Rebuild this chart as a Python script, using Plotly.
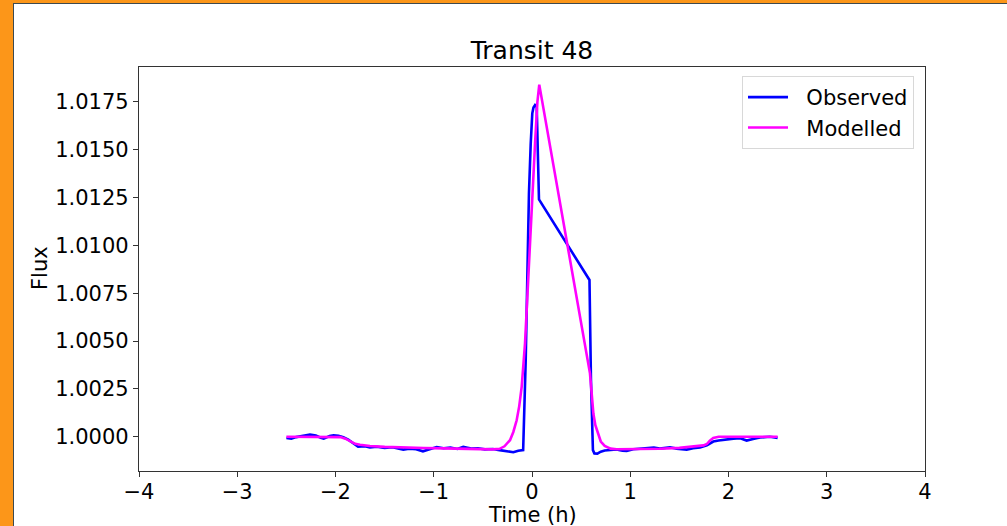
import plotly.graph_objects as go

# ---- data ----
obs_t = [-2.50, -2.45, -2.40, -2.35, -2.30, -2.26, -2.20, -2.15, -2.12, -2.06, -2.02, -1.97,
         -1.92, -1.87, -1.82, -1.77, -1.70, -1.65, -1.58, -1.50, -1.42, -1.35, -1.31, -1.25,
         -1.18, -1.11, -1.05, -0.97, -0.90, -0.83, -0.76, -0.70, -0.62, -0.55, -0.48, -0.40,
         -0.33, -0.26, -0.19, -0.14, -0.09, -0.064, -0.044, -0.031, -0.013, 0.003, 0.015,
         0.031, 0.048, 0.071, 0.585, 0.600, 0.620, 0.635, 0.665, 0.70, 0.74, 0.794, 0.86,
         0.92, 0.964, 1.03, 1.10, 1.167, 1.24, 1.30, 1.405, 1.47, 1.53, 1.575, 1.64, 1.71,
         1.78, 1.845, 1.90, 1.98, 2.05, 2.12, 2.185, 2.25, 2.32, 2.42, 2.50]
obs_flux = [0.99993, 0.99990, 0.99998, 1.00005, 1.00008, 1.00012, 1.00006, 0.99995, 0.99990,
            1.00004, 1.00008, 1.00005, 0.99998, 0.99985, 0.99965, 0.99948, 0.99950, 0.99944,
            0.99948, 0.99942, 0.99945, 0.99937, 0.99933, 0.99938, 0.99935, 0.99924, 0.99935,
            0.99946, 0.99940, 0.99944, 0.99936, 0.99947, 0.99938, 0.99940, 0.99934, 0.99936,
            0.99930, 0.99925, 0.99919, 0.99927, 0.99930, 1.00400, 1.00924, 1.01270, 1.01532,
            1.01690, 1.01720, 1.01733, 1.01724, 1.01240, 1.00819, 1.00300, 0.99930, 0.99913,
            0.99912, 0.99922, 0.99928, 0.99930, 0.99933, 0.99927, 0.99926, 0.99935, 0.99938,
            0.99940, 0.99943, 0.99938, 0.99945, 0.99938, 0.99935, 0.99933, 0.99940, 0.99944,
            0.99955, 0.99975, 0.99980, 0.99987, 0.99990, 0.99992, 0.99980, 0.99988, 0.99996,
            1.00000, 0.99994]

mod_t = [-2.50, -2.30, -2.10, -1.95, -1.90, -1.85, -1.80, -1.75, -1.65, -1.50, -1.30, -1.10,
         -0.90, -0.70, -0.50, -0.40, -0.33, -0.28, -0.224, -0.19, -0.156, -0.13, -0.105,
         -0.071, -0.037, -0.003, 0.031, 0.055, 0.074, 0.590, 0.607, 0.625, 0.645, 0.670,
         0.700, 0.740, 0.800, 0.862, 1.00, 1.30, 1.50, 1.65, 1.745, 1.78, 1.81, 1.845, 1.90,
         2.20, 2.50]
mod_flux = [1.00000, 1.00000, 1.00000, 0.99998, 0.99990, 0.99975, 0.99963, 0.99958, 0.99952,
            0.99947, 0.99943, 0.99941, 0.99939, 0.99936, 0.99934, 0.99934, 0.99937, 0.99950,
            0.99982, 1.00025, 1.00086, 1.00160, 1.00261, 1.00488, 1.00837, 1.01220, 1.01532,
            1.01750, 1.01840, 1.00331, 1.00200, 1.00120, 1.00060, 1.00020, 0.99975, 0.99952,
            0.99938, 0.99935, 0.99935, 0.99937, 0.99942, 0.99948, 0.99955, 0.99962, 0.99980,
            0.99994, 1.00000, 1.00000, 1.00000]

x_ticks = [-4, -3, -2, -1, 0, 1, 2, 3, 4]
y_ticks = [1.0000, 1.0025, 1.0050, 1.0075, 1.0100, 1.0125, 1.0150, 1.0175]

W, H = 1007, 526
L, R, T, B = 139, 925, 67, 471
FONT = "DejaVu Sans"


def px_x(p):
    return (p - L) / (R - L)


def px_y(p):
    return (B - p) / (B - T)


NB = "\u00a0\u00a0"

fig = go.Figure()
fig.add_trace(go.Scatter(x=obs_t, y=obs_flux, mode="lines", name=NB + "Observed",
                         line=dict(color="#0000FF", width=2.6)))
fig.add_trace(go.Scatter(x=mod_t, y=mod_flux, mode="lines", name=NB + "Modelled",
                         line=dict(color="#FF00FF", width=2.6)))

axis_common = dict(showgrid=False, zeroline=False, showline=True, linecolor="#333333",
                   linewidth=1.3, mirror=True, ticks="outside", ticklen=5, tickwidth=1.2,
                   tickcolor="#333333", tickfont=dict(family=FONT, size=21, color="#000000"))

fig.update_xaxes(range=[-4, 4], tickvals=x_ticks,
                 ticktext=[("\u2212" + str(-v)) if v < 0 else str(v) for v in x_ticks],
                 ticklabelstandoff=-3, **axis_common)
fig.update_yaxes(range=[0.99821, 1.01932], tickvals=y_ticks,
                 ticktext=["%.4f" % v for v in y_ticks], **axis_common)

shapes = [
    # orange frame strips (left and top) with thin dark inner line
    dict(type="rect", xref="paper", yref="paper", x0=px_x(0), x1=px_x(13), y0=px_y(W), y1=px_y(0),
         fillcolor="#FC9619", line=dict(width=0), layer="above"),
    dict(type="rect", xref="paper", yref="paper", x0=px_x(0), x1=px_x(W + 5), y0=px_y(3), y1=px_y(0),
         fillcolor="#FC9619", line=dict(width=0), layer="above"),
    dict(type="line", xref="paper", yref="paper", x0=px_x(13.5), x1=px_x(13.5), y0=px_y(W), y1=px_y(3),
         line=dict(color="#3d4a50", width=1), layer="above"),
    dict(type="line", xref="paper", yref="paper", x0=px_x(13), x1=px_x(W + 5), y0=px_y(3.5), y1=px_y(3.5),
         line=dict(color="#3d4a50", width=1), layer="above"),
]

annotations = [
    dict(text="Flux", xref="paper", yref="paper", x=px_x(40), y=px_y(268), showarrow=False,
         textangle=-90, font=dict(family=FONT, size=21, color="#000000"),
         xanchor="center", yanchor="middle"),
    dict(text="Time (h)", xref="paper", yref="paper", x=px_x(532), y=px_y(515), showarrow=False,
         font=dict(family=FONT, size=21, color="#000000"), xanchor="center", yanchor="middle"),
]

fig.update_layout(
    width=W, height=H,
    margin=dict(l=L, r=W - R, t=T, b=H - B, autoexpand=False),
    paper_bgcolor="white", plot_bgcolor="white",
    title=dict(text="Transit 48", x=532 / W, xanchor="center",
               y=1 - 50 / H, yanchor="middle", yref="container",
               font=dict(family=FONT, size=25, color="#000000")),
    legend=dict(x=px_x(914), y=px_y(76), xanchor="right", yanchor="top",
                bgcolor="white", bordercolor="#d8d8d8", borderwidth=1,
                font=dict(family=FONT, size=21, color="#000000"),
                tracegroupgap=0, itemwidth=40),
    shapes=shapes,
    annotations=annotations,
    showlegend=True,
)

fig.write_html("out.html")
